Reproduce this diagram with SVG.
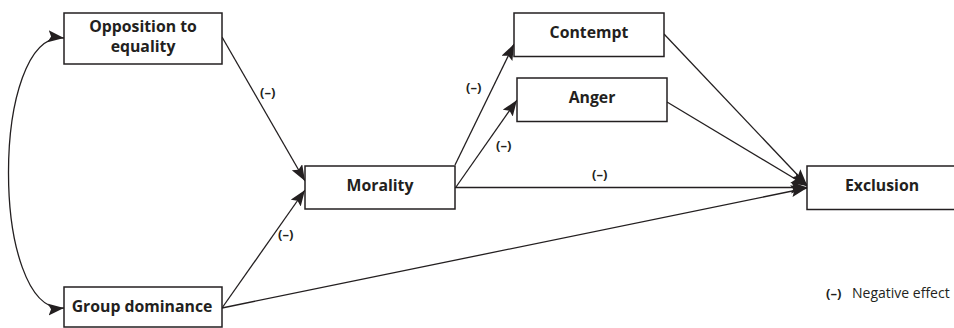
<svg xmlns="http://www.w3.org/2000/svg" width="954" height="328" viewBox="0 0 954 328">
<style>
.box{fill:#fff;stroke:#231f20;stroke-width:1.5}
.lbl{font-family:"Open Sans","Liberation Sans",sans-serif;font-weight:700;font-size:15.8px;fill:#231f20;text-anchor:middle}
.neg{font-family:"Open Sans","Liberation Sans",sans-serif;font-weight:700;font-size:13px;fill:#231f20}
.leg{font-family:"Open Sans","Liberation Sans",sans-serif;font-size:14px;fill:#231f20}
.con{fill:none;stroke:#231f20;stroke-width:1.3}
</style>
<defs>
<marker id="ah" markerUnits="userSpaceOnUse" markerWidth="18" markerHeight="14" refX="16" refY="6" orient="auto-start-reverse" viewBox="0 0 18 14">
<path d="M0,0 L16,6 L0,12 L3,6 z" fill="#231f20"/>
</marker>
</defs>
<rect width="954" height="328" fill="#fff"/>
<g id="connectors">
<path class="con" d="M64,38 C-10,30 -10,315 64,308" marker-start="url(#ah)" marker-end="url(#ah)"/>
<line class="con" x1="222" y1="37" x2="305" y2="181" marker-end="url(#ah)"/>
<line class="con" x1="222" y1="308" x2="305" y2="190" marker-end="url(#ah)"/>
<line class="con" x1="222" y1="308" x2="807" y2="188" marker-end="url(#ah)"/>
<line class="con" x1="455" y1="165" x2="514" y2="44" marker-end="url(#ah)"/>
<line class="con" x1="456" y1="187" x2="517" y2="100" marker-end="url(#ah)"/>
<line class="con" x1="455" y1="187.5" x2="807" y2="187.5" marker-end="url(#ah)"/>
<line class="con" x1="664" y1="34" x2="807" y2="185" marker-end="url(#ah)"/>
<line class="con" x1="667" y1="102" x2="807" y2="186" marker-end="url(#ah)"/>
<text class="neg" x="260" y="97">(–)</text>
<text class="neg" x="466" y="92">(–)</text>
<text class="neg" x="496" y="150">(–)</text>
<text class="neg" x="592" y="179">(–)</text>
<text class="neg" x="278" y="239">(–)</text>
</g>
<g id="opposition">
<rect class="box" x="64" y="13" width="158" height="51"/>
<text class="lbl" x="143" y="32">Opposition to</text>
<text class="lbl" x="143" y="52">equality</text>
</g>
<g id="group-dominance">
<rect class="box" x="64" y="287" width="158" height="40"/>
<text class="lbl" x="142" y="312">Group dominance</text>
</g>
<g id="morality">
<rect class="box" x="305" y="166" width="150" height="43"/>
<text class="lbl" x="380" y="191">Morality</text>
</g>
<g id="contempt">
<rect class="box" x="514" y="13" width="150" height="43.5"/>
<text class="lbl" x="589" y="38">Contempt</text>
</g>
<g id="anger">
<rect class="box" x="517" y="78" width="150" height="43.5"/>
<text class="lbl" x="592" y="103">Anger</text>
</g>
<g id="exclusion">
<rect class="box" x="807" y="166" width="150" height="43.5"/>
<text class="lbl" x="882" y="191">Exclusion</text>
</g>
<g id="legend">
<text class="neg" x="826" y="298">(–)</text>
<text class="leg" x="852" y="298">Negative effect</text>
</g>
</svg>
